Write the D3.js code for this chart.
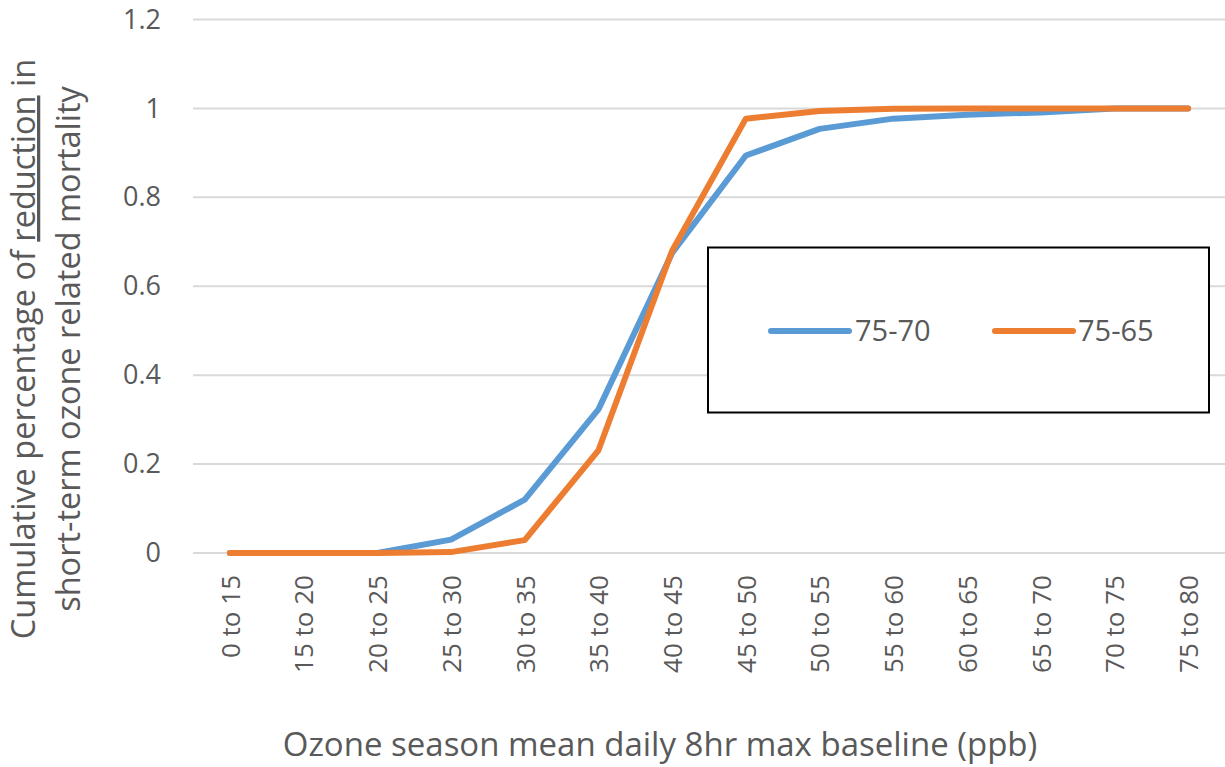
<!DOCTYPE html>
<html>
<head>
<meta charset="utf-8">
<script src="https://cdn.jsdelivr.net/npm/d3@7"></script>
<style>
  html, body { margin: 0; padding: 0; background: #fff; }
  svg { display: block; font-family: "Open Sans", "DejaVu Sans", sans-serif; }
</style>
</head>
<body>
<svg id="chart" width="1225" height="767"></svg>
<script>
// Baseline ozone bins (ppb)
const categories = ["0 to 15", "15 to 20", "20 to 25", "25 to 30", "30 to 35", "35 to 40", "40 to 45",
                    "45 to 50", "50 to 55", "55 to 60", "60 to 65", "65 to 70", "70 to 75", "75 to 80"];
// Cumulative share of mortality reduction, standard 75 -> 70 ppb
const series7570 = [0, 0, 0, 0.03, 0.12, 0.323, 0.675, 0.894, 0.954, 0.977, 0.986, 0.991, 1, 1];
// Cumulative share of mortality reduction, standard 75 -> 65 ppb
const series7565 = [0, 0, 0, 0.002, 0.029, 0.231, 0.68, 0.977, 0.994, 0.999, 1, 1, 1, 1];
const seriesNames = ["75-70", "75-65"];
const yTicks = [0, 0.2, 0.4, 0.6, 0.8, 1, 1.2];

const colors = ["#5B9BD5", "#ED7D31"];
const textColor = "#595959";

const svg = d3.select("#chart");

const x = d3.scalePoint().domain(categories).range([193, 1225]).padding(0.5);
const y = d3.scaleLinear().domain([0, 1.2]).range([553, 19.5]);

// Horizontal gridlines
const grid = svg.append("g");
grid.selectAll("line").data(yTicks).join("line")
  .attr("x1", 193).attr("x2", 1225)
  .attr("y1", d => y(d)).attr("y2", d => y(d))
  .attr("stroke", "#D9D9D9").attr("stroke-width", 2);

// Y axis labels
const yAxis = svg.append("g").attr("transform", "translate(161,0)")
  .call(d3.axisLeft(y).tickValues(yTicks).tickSize(0).tickPadding(0)
        .tickFormat(d => d3.format("")(d)));
yAxis.select(".domain").remove();
yAxis.selectAll("text")
  .attr("fill", textColor).attr("font-size", 27)
  .attr("font-family", "'Open Sans', sans-serif");

// X axis labels (rotated about each tick position)
const xAxis = svg.append("g").attr("transform", "translate(0,575)")
  .call(d3.axisBottom(x).tickSize(0).tickPadding(0));
xAxis.select(".domain").remove();
xAxis.selectAll(".tick text")
  .attr("fill", textColor).attr("font-size", 26)
  .attr("font-family", "'Open Sans', sans-serif")
  .attr("text-anchor", "end")
  .attr("transform", "rotate(-90)")
  .attr("x", 0).attr("y", 0).attr("dy", "0.36em");

// Lines
const line = d3.line().x((d, i) => x(categories[i])).y(d => y(d));
[series7570, series7565].forEach((s, k) => {
  svg.append("path").datum(s)
    .attr("d", line)
    .attr("fill", "none")
    .attr("stroke", colors[k])
    .attr("stroke-width", 6)
    .attr("stroke-linecap", "round")
    .attr("stroke-linejoin", "round");
});

// Legend
const legend = svg.append("g");
legend.append("rect")
  .attr("x", 708).attr("y", 247.5).attr("width", 501).attr("height", 165)
  .attr("fill", "#fff").attr("stroke", "#000").attr("stroke-width", 2);
const legendItems = [{x0: 771, x1: 849, tx: 855}, {x0: 995, x1: 1073, tx: 1078}];
legendItems.forEach((it, k) => {
  legend.append("line")
    .attr("x1", it.x0).attr("x2", it.x1).attr("y1", 331).attr("y2", 331)
    .attr("stroke", colors[k]).attr("stroke-width", 6).attr("stroke-linecap", "round");
  legend.append("text")
    .attr("x", it.tx).attr("y", 331).attr("dy", "0.36em")
    .attr("fill", textColor).attr("font-size", 29)
    .text(seriesNames[k]);
});

// Axis titles
svg.append("text")
  .attr("x", 660).attr("y", 756)
  .attr("text-anchor", "middle")
  .attr("fill", textColor).attr("font-size", 33)
  .text("Ozone season mean daily 8hr max baseline (ppb)");

const yTitle = svg.append("text")
  .attr("transform", "translate(0,349) rotate(-90)")
  .attr("text-anchor", "middle")
  .attr("fill", textColor).attr("font-size", 32.5);
const l1 = yTitle.append("tspan").attr("x", 0).attr("y", 35);
l1.append("tspan").text("Cumulative percentage of ");
l1.append("tspan").style("text-decoration", "underline").text("reduction");
l1.append("tspan").text(" in");
yTitle.append("tspan").attr("x", 0).attr("y", 80).text("short-term ozone related mortality");
</script>
</body>
</html>
